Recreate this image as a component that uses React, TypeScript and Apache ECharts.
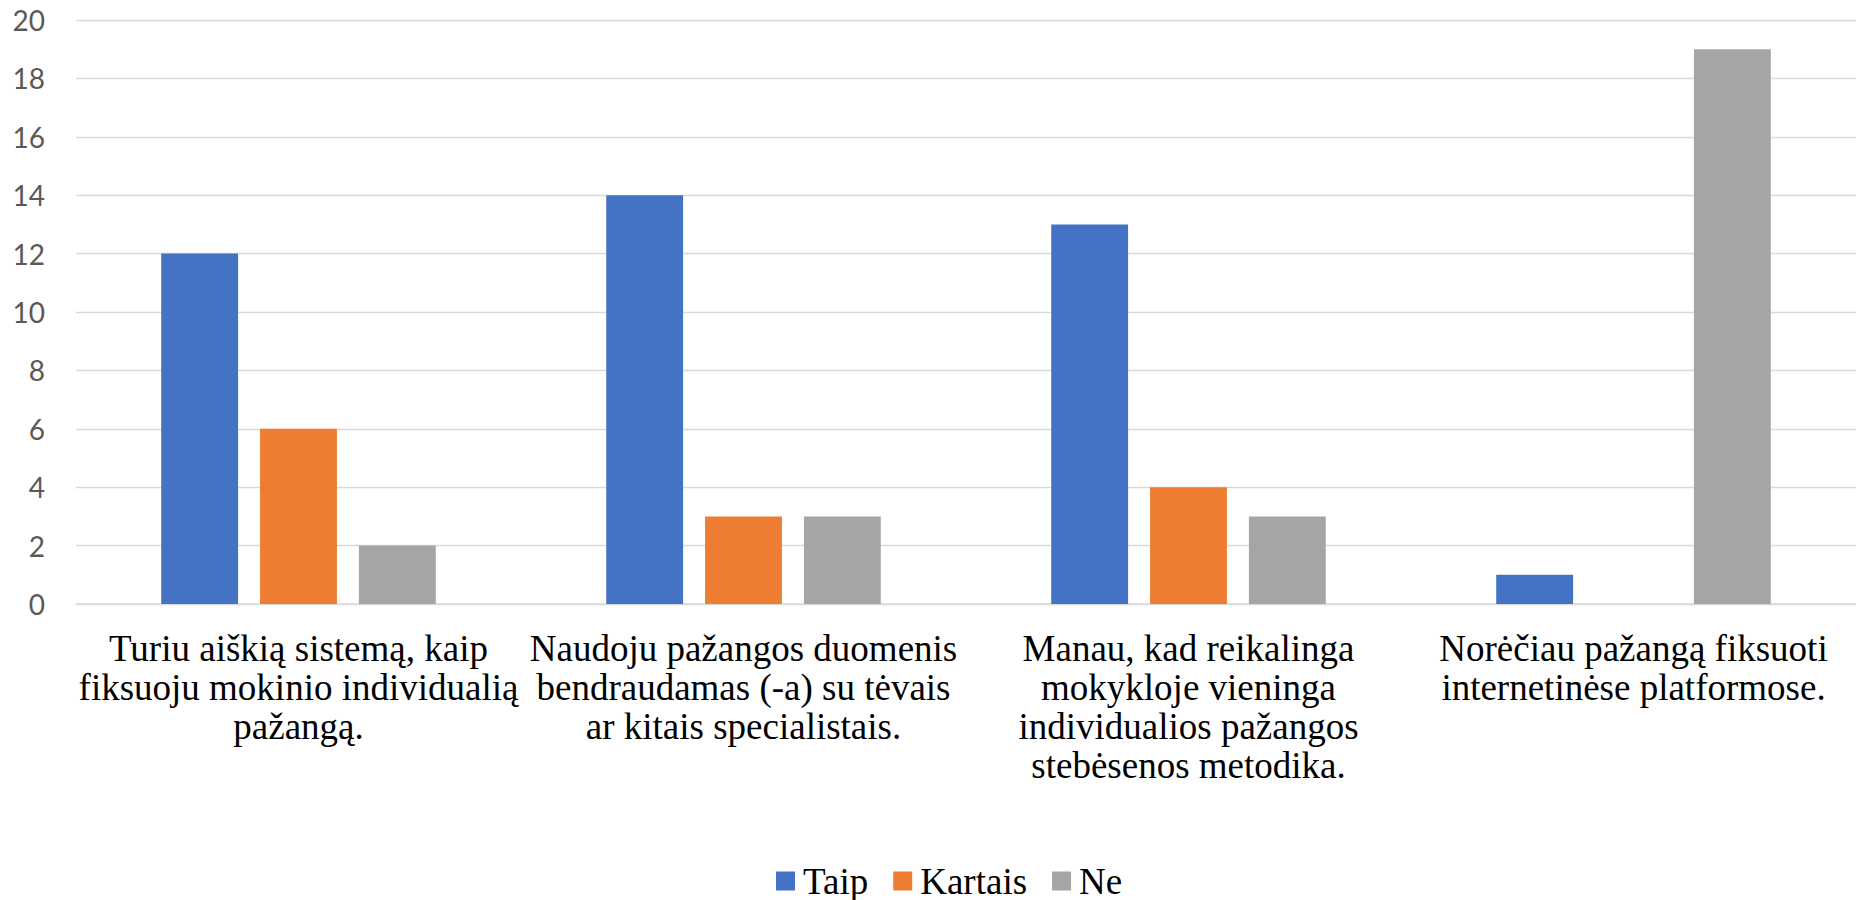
import React, { useEffect, useRef } from "react";
import * as echarts from "echarts";

const categories: string[] = [
  "Turiu aiškią sistemą, kaip\nfiksuoju mokinio individualią\npažangą.",
  "Naudoju pažangos duomenis\nbendraudamas (-a) su tėvais\nar kitais specialistais.",
  "Manau, kad reikalinga\nmokykloje vieninga\nindividualios pažangos\nstebėsenos metodika.",
  "Norėčiau pažangą fiksuoti\ninternetinėse platformose.",
];
const taip: number[] = [12, 14, 13, 1];
const kartais: number[] = [6, 3, 4, 0];
const ne: number[] = [2, 3, 3, 19];
const seriesNames: string[] = ["Taip", "Kartais", "Ne"];
const colors: string[] = ["#4472C4", "#ED7D31", "#A5A5A5"];

const SERIF = "Liberation Serif";

export default function App() {
  const ref = useRef<HTMLDivElement>(null);
  useEffect(() => {
    if (!ref.current) return;
    const chart = echarts.init(ref.current, null, { renderer: "svg" });
    const values = [taip, kartais, ne];
    chart.setOption({
      animation: false,
      backgroundColor: "#ffffff",
      color: colors,
      grid: { left: 76, top: 20, width: 1792, bottom: 296, containLabel: false },
      legend: {
        left: 776,
        top: 862,
        padding: 0,
        itemWidth: 19,
        itemHeight: 19,
        itemGap: 25,
        icon: "rect",
        textStyle: {
          fontFamily: SERIF,
          fontSize: 37,
          color: "#000000",
          lineHeight: 38,
          padding: [0, 0, 0, 3],
        },
        data: seriesNames,
      },
      xAxis: {
        type: "category",
        data: categories,
        axisLine: { show: true, lineStyle: { color: "#D9D9D9", width: 1.5 } },
        axisTick: { show: false },
        axisLabel: {
          interval: 0,
          margin: 25,
          fontFamily: SERIF,
          fontSize: 37,
          lineHeight: 39,
          color: "#000000",
          align: "center",
          verticalAlign: "top",
        },
      },
      yAxis: {
        type: "value",
        min: 0,
        max: 20,
        interval: 2,
        axisLine: { show: false },
        axisTick: { show: false },
        splitLine: { lineStyle: { color: "#D9D9D9", width: 1.3 } },
        axisLabel: {
          margin: 31,
          fontFamily: "Lato",
          fontSize: 28,
          color: "#595959",
        },
      },
      series: seriesNames.map((name, i) => ({
        name,
        type: "bar",
        data: values[i],
        barGap: "28.6%",
        barCategoryGap: "38.3%",
        itemStyle: { color: colors[i] },
      })),
    });
    return () => chart.dispose();
  }, []);
  return (
    <div
      ref={ref}
      style={{ position: "fixed", left: 0, top: 0, width: 1856, height: 900 }}
    />
  );
}
